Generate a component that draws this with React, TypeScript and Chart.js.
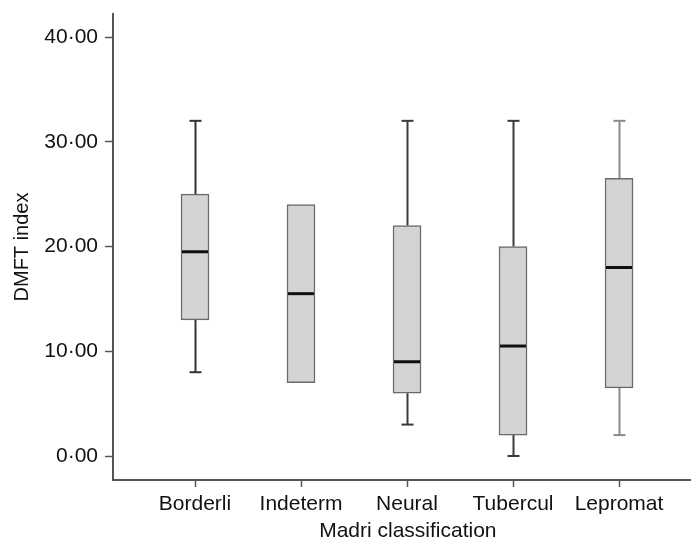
import React, { useEffect, useRef } from "react";
import { Chart, registerables } from "chart.js";

Chart.register(...registerables);

const categories = ["Borderli", "Indeterm", "Neural", "Tubercul", "Lepromat"];
const whiskerLow = [8, 7, 3, 0, 2];
const q1Values = [13, 7, 6, 2, 6.5];
const medianValues = [19.5, 15.5, 9, 10.5, 18];
const q3Values = [25, 24, 22, 20, 26.5];
const whiskerHigh = [32, 24, 32, 32, 32];
const yTicks = [0, 10, 20, 30, 40];

const whiskerColors = ["#333333", "#333333", "#3a3a3a", "#3a3a3a", "#8a8a8a"];
const FONT = "'Liberation Sans', Arial, Helvetica, sans-serif";

const boxParts = {
  id: "boxParts",
  beforeDatasetsDraw(chart: any) {
    const { ctx, scales } = chart;
    const xs = scales.x;
    const ys = scales.y;
    ctx.save();
    categories.forEach((_, i) => {
      const x = Math.round(xs.getPixelForValue(i)) + 0.5;
      ctx.strokeStyle = whiskerColors[i];
      ctx.lineWidth = 2;
      const capHalf = 6;
      const segs: [number, number][] = [];
      if (whiskerHigh[i] > q3Values[i]) segs.push([q3Values[i], whiskerHigh[i]]);
      if (whiskerLow[i] < q1Values[i]) segs.push([whiskerLow[i], q1Values[i]]);
      segs.forEach(([a, b]) => {
        ctx.beginPath();
        ctx.moveTo(x, ys.getPixelForValue(a));
        ctx.lineTo(x, ys.getPixelForValue(b));
        ctx.stroke();
      });
      if (whiskerHigh[i] > q3Values[i]) {
        const y = ys.getPixelForValue(whiskerHigh[i]);
        ctx.beginPath();
        ctx.moveTo(x - capHalf, y);
        ctx.lineTo(x + capHalf, y);
        ctx.stroke();
      }
      if (whiskerLow[i] < q1Values[i]) {
        const y = ys.getPixelForValue(whiskerLow[i]);
        ctx.beginPath();
        ctx.moveTo(x - capHalf, y);
        ctx.lineTo(x + capHalf, y);
        ctx.stroke();
      }
    });
    ctx.restore();
  },
  afterDatasetsDraw(chart: any) {
    const { ctx, scales } = chart;
    const xs = scales.x;
    const ys = scales.y;
    const meta = chart.getDatasetMeta(0);
    ctx.save();
    ctx.strokeStyle = "#111111";
    ctx.lineWidth = 3;
    categories.forEach((_, i) => {
      const bar = meta.data[i] as any;
      const half = bar ? bar.width / 2 : 14;
      const x = xs.getPixelForValue(i);
      const y = ys.getPixelForValue(medianValues[i]);
      ctx.beginPath();
      ctx.moveTo(x - half + 1, y);
      ctx.lineTo(x + half - 1, y);
      ctx.stroke();
    });
    ctx.restore();
  },
};

export default function App() {
  const ref = useRef<HTMLCanvasElement | null>(null);

  useEffect(() => {
    if (!ref.current) return;
    const chart = new Chart(ref.current, {
      type: "bar",
      data: {
        datasets: [
          {
            data: categories.map((_, i) => ({ x: i, y: [q1Values[i], q3Values[i]] })) as any,
            backgroundColor: "#d4d4d4",
            borderColor: "#6a6a6a",
            borderWidth: 1.5,
            borderSkipped: false,
            barThickness: 28,
          },
        ],
      },
      options: {
        animation: false,
        responsive: true,
        maintainAspectRatio: false,
        layout: { padding: { top: 14, left: 0, right: 0, bottom: 0 } },
        plugins: { legend: { display: false }, tooltip: { enabled: false } },
        scales: {
          x: {
            type: "linear",
            offset: false,
            min: -0.7736,
            max: 4.679,
            afterFit: (s: any) => {
              s.height = 62;
              s.paddingLeft = 0;
              s.paddingRight = 0;
            },
            afterBuildTicks: (s: any) => {
              s.ticks = categories.map((_, i) => ({ value: i }));
            },
            ticks: {
              autoSkip: false,
              maxRotation: 0,
              padding: 5,
              color: "#111111",
              font: { family: FONT, size: 21 },
              callback: (v: any) => categories[Number(v)] ?? "",
            },
            grid: {
              display: true,
              drawOnChartArea: false,
              drawTicks: true,
              tickLength: 7,
              tickWidth: 1.5,
              tickColor: "#555555",
              offset: false,
            },
            border: { display: true, color: "#555555", width: 2 },
            title: {
              display: true,
              text: "  Madri classification",
              color: "#111111",
              font: { family: FONT, size: 21, lineHeight: 1 },
              padding: { top: 0, bottom: 0 },
            },
          },
          y: {
            type: "linear",
            min: -2.29,
            max: 42.2,
            afterFit: (s: any) => {
              s.width = 113;
              s.paddingTop = 0;
              s.paddingBottom = 0;
            },
            afterBuildTicks: (s: any) => {
              s.ticks = yTicks.map((v) => ({ value: v }));
            },
            ticks: {
              padding: 7,
              color: "#111111",
              font: { family: FONT, size: 21 },
              callback: (v: any) => Number(v).toFixed(2).replace(".", "\u00B7"),
            },
            grid: {
              display: true,
              drawOnChartArea: false,
              drawTicks: true,
              tickLength: 8,
              tickWidth: 1.5,
              tickColor: "#555555",
            },
            border: { display: true, color: "#555555", width: 2 },
            title: {
              display: true,
              text: "DMFT index",
              color: "#111111",
              font: { family: FONT, size: 20 },
              padding: { top: 10, bottom: 0 },
            },
          },
        },
      },
      plugins: [boxParts],
    });
    return () => chart.destroy();
  }, []);

  return (
    <div style={{ position: "fixed", left: 0, top: 0, width: 691, height: 542, background: "#ffffff" }}>
      <canvas ref={ref} />
    </div>
  );
}
